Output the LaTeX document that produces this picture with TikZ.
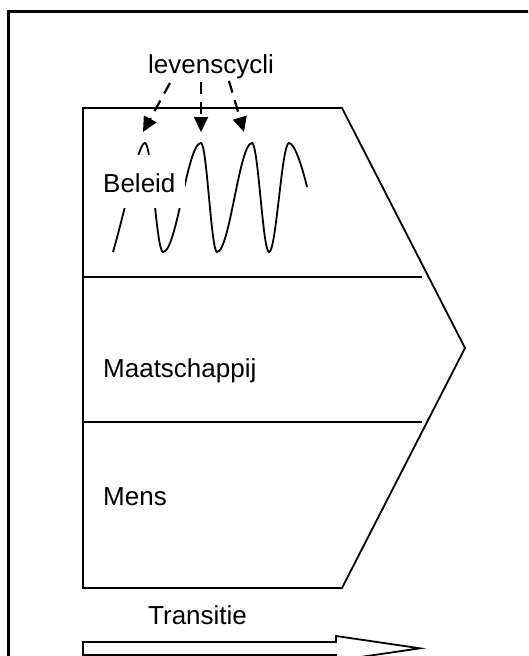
\documentclass[tikz,border=0pt]{standalone}
\usepackage{fontspec}
\setmainfont{Liberation Sans}
\usetikzlibrary{arrows.meta}
\begin{document}
\begin{tikzpicture}[x=1pt,y=-1pt,
  lbl/.style={font=\fontsize{26}{30}\selectfont, inner sep=0pt, anchor=base west},
  edge/.style={line width=1.8pt, line join=miter},
  dasharrow/.style={line width=2.2pt, dash pattern=on 12pt off 8pt, -{Triangle[length=15pt,width=14pt]}},
  wave/.style={line width=1.8pt},
  frame/.style={line width=2.5pt}]
\useasboundingbox (0,0) rectangle (528,656);
\clip (0,0) rectangle (528,656);
\fill[white] (0,0) rectangle (528,656);
% outer frame (open to the right and bottom)
\draw[frame] (8.5,700) -- (8.5,11.5) -- (600,11.5);
% arrow-shaped block
\draw[edge] (83,108) -- (342,108) -- (465,348) -- (342,588) -- (83,588) -- cycle;
\draw[edge] (83,277) -- (422,277);
\draw[edge] (83,422) -- (422,422);
% waves (levenscycli)
\draw[wave] (113,252) .. controls (128,200) and (138,143) .. (145,143)
  .. controls (151.6,143) and (156.4,252) .. (163,252)
  .. controls (176.8,252) and (187.2,143) .. (201,143)
  .. controls (206.8,143) and (211.2,252) .. (217,252)
  .. controls (229.7,252) and (239.3,143) .. (252,143)
  .. controls (258.2,143) and (262.8,252) .. (269,252)
  .. controls (276.3,252) and (281.7,143) .. (289,143)
  .. controls (295,143) and (303,170) .. (307,187);
% Beleid label with white box
\fill[white] (98,155) rectangle (185,208);
\node[lbl] (beleid) at (103,192) {Beleid};
\node[lbl] (maat) at (103,377) {Maatschappij};
\node[lbl] (mens) at (103,505) {Mens};
\node[lbl] (lev) at (148,73) {levenscycli};
% dashed arrows
\coordinate (s1) at (170,83);
\coordinate (t1) at (143,132);
\coordinate (s2) at (201,82);
\coordinate (t2) at (201,132);
\coordinate (s3) at (229,81);
\coordinate (t3) at (244,132);
\draw[dasharrow] (s1) -- (t1);
\draw[dasharrow] (s2) -- (t2);
\draw[dasharrow] (s3) -- (t3);
% transitie
\node[lbl] (trans) at (148,624) {Transitie};
\draw[edge] (83,642) -- (336,642) -- (336,636) -- (420,648.3) -- (336,660.6) -- (336,655) -- (83,655) -- cycle;
\end{tikzpicture}
\end{document}
